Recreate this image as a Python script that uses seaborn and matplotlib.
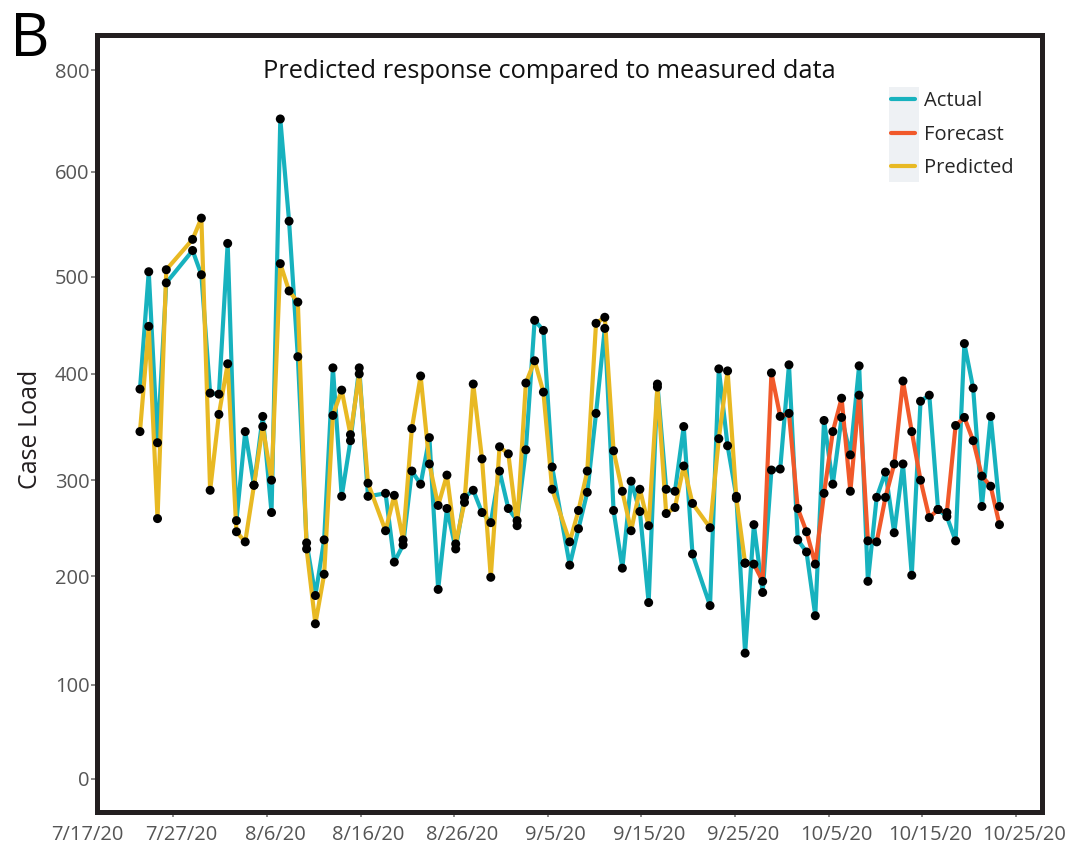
import matplotlib
matplotlib.use("Agg")
import matplotlib.pyplot as plt
import matplotlib.transforms as mtransforms
from matplotlib.patches import Rectangle
import seaborn as sns
import pandas as pd

# day index of each reported value (a few days have no report)
days = [0, 1, 2, 3, 6, 7, 8, 9, 10, 11, 12, 13, 14, 15, 16, 17, 18, 19, 20, 21,
        22, 23, 24, 25, 26, 28, 29, 30, 31, 32, 33, 34, 35, 36, 37, 38, 39, 40, 41, 42,
        43, 44, 45, 46, 47, 49, 50, 51, 52, 53, 54, 55, 56, 57, 58, 59, 60, 61, 62, 63,
        65, 66, 67, 68, 69, 70, 71, 72, 73, 74, 75, 76, 77, 78, 79, 80, 81, 82, 83, 84,
        85, 86, 87, 88, 89, 90, 91, 92, 93, 94, 95, 96, 97, 98]

actual = [385, 501, 332, 490, 522, 498, 381, 380, 529, 255, 343, 290, 358, 263, 652, 551, 417, 233, 181, 236,
          406, 279, 334, 406, 279, 282, 214, 231, 304, 291, 337, 187, 267, 227, 278, 285, 263, 253, 304, 267,
          255, 325, 453, 443, 308, 211, 247, 283, 361, 445, 265, 208, 294, 264, 174, 390, 286, 284, 348, 222,
          171, 405, 329, 279, 124, 251, 184, 305, 306, 409, 236, 224, 161, 354, 291, 357, 320, 408, 195, 278,
          303, 243, 311, 201, 373, 379, 266, 259, 235, 430, 386, 269, 358, 269]

# model fit over the training period
pred_days = days[:65]
predicted = [343, 447, 257, 503, 533, 554, 285, 360, 410, 244, 234, 290, 348, 295, 509, 482, 471, 227, 153, 202,
             359, 384, 340, 400, 292, 245, 280, 236, 346, 398, 311, 270, 300, 232, 273, 390, 316, 199, 328, 321,
             250, 391, 413, 382, 286, 234, 265, 304, 450, 456, 324, 284, 245, 286, 250, 387, 262, 268, 309, 272,
             248, 336, 403, 277, 213]

# forecast continues from the last fitted day
fc_days = days[64:]
forecast = [213, 212, 195, 401, 358, 361, 267, 244, 212, 282, 343, 376, 284, 379, 235, 234, 278, 311, 393, 343,
            295, 258, 266, 263, 349, 357, 334, 299, 289, 251]

date_labels = ["7/27/20", "8/6/20", "8/16/20", "8/26/20", "9/5/20", "9/15/20",
               "9/25/20", "10/5/20", "10/15/20", "10/25/20"]
y_labels = ["0", "100", "200", "300", "400", "500", "600", "800"]

c_actual = "#17b2be"
c_forecast = "#f1592a"
c_pred = "#e8b923"

sns.set_style("white")
plt.rcParams["font.family"] = ["Open Sans", "DejaVu Sans"]

df_a = pd.DataFrame({"day": days, "val": actual})
df_p = pd.DataFrame({"day": pred_days, "val": predicted})
df_f = pd.DataFrame({"day": fc_days, "val": forecast})

fig = plt.figure(figsize=(10.8, 8.46), dpi=100)
ax = fig.add_axes([97 / 1080, 1 - 812 / 846, (1042 - 97) / 1080, (812 - 35) / 846])

lw = 3.0
sns.lineplot(data=df_a, x="day", y="val", color=c_actual, lw=lw, label="Actual", ax=ax)
sns.lineplot(data=df_f, x="day", y="val", color=c_forecast, lw=lw, label="Forecast", ax=ax)
sns.lineplot(data=df_p, x="day", y="val", color=c_pred, lw=lw, label="Predicted", ax=ax)
for d in [df_a, df_p, df_f]:
    sns.scatterplot(data=d, x="day", y="val", color="black", s=42, edgecolor="none",
                    zorder=5, legend=False, ax=ax)

ax.set_xlim(-4.9, 102.85)
ax.set_ylim(-33, 735)

# ticks
tick0 = 3.80
step = 10.673
ax.set_xticks([tick0 + k * step for k in range(len(date_labels))])
ax.set_xticklabels(date_labels)
ax.set_yticks([0, 93, 200, 295, 400, 496, 600, 700])
ax.set_yticklabels(y_labels)
ax.tick_params(axis="x", direction="out", length=3.6, width=1.2, pad=5.5,
               colors="#777777", labelcolor="#555555", labelsize=14.5, bottom=True)
ax.tick_params(axis="y", direction="out", length=4.2, width=1.2, pad=1.2,
               colors="#777777", labelcolor="#555555", labelsize=14.5, left=True)
shift = mtransforms.ScaledTranslation(8 / 100, 0, fig.dpi_scale_trans)
for lab in ax.get_xticklabels():
    lab.set_transform(lab.get_transform() + shift)
# first date falls left of the frame
ax.annotate("7/17/20", xy=(tick0 - step, 0), xycoords=("data", "axes fraction"),
            xytext=(5.8, -9.1), textcoords="offset points", ha="center", va="top",
            fontsize=14.5, color="#555555", annotation_clip=False)

for sp in ax.spines.values():
    sp.set_visible(True)
    sp.set_linewidth(3.6)
    sp.set_color("#231f20")

ax.set_xlabel("")
ax.set_ylabel("Case Load", fontsize=18, color="#231f20")
ax.yaxis.set_label_coords(-0.057, 0.492)

ax.text(0.479, 0.953, "Predicted response compared to measured data", transform=ax.transAxes,
        ha="center", va="center", fontsize=18.3, color="#111111")

# legend with shaded handle column
ax.add_patch(Rectangle(((889 - 97) / 945, (812 - 182) / 777), 30 / 945, 95 / 777,
                       transform=ax.transAxes, facecolor="#eef1f4", edgecolor="none", zorder=1))
ax.legend(loc="upper left", bbox_to_anchor=((891 - 97) / 945, (812 - 91) / 777), frameon=False,
          fontsize=14.5, handlelength=1.2, handletextpad=0.45, labelspacing=0.68,
          borderpad=0, borderaxespad=0)

fig.text(10 / 1080, 1 - 10 / 846, "B", fontsize=44, ha="left", va="top", color="black")

fig.savefig("out.png", dpi=100)
